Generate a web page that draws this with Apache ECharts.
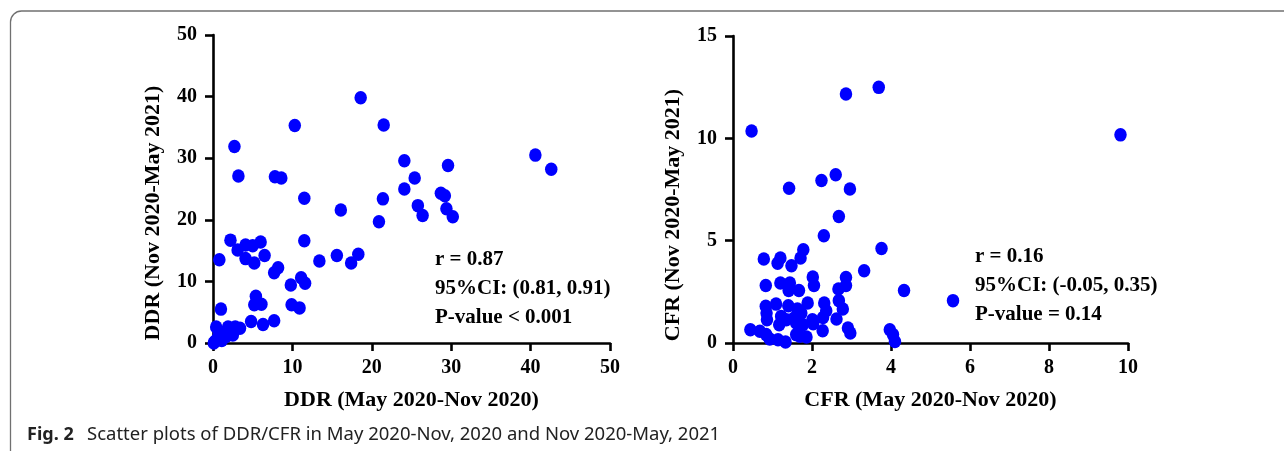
<!DOCTYPE html>
<html>
<head>
<meta charset="utf-8">
<script src="https://cdn.jsdelivr.net/npm/echarts@6/dist/echarts.min.js"></script>
<style>
html,body{margin:0;padding:0;background:#fff;}
#chart{width:1284px;height:451px;}
</style>
</head>
<body>
<div id="chart"></div>
<script>
// DDR: x = May 2020-Nov 2020, y = Nov 2020-May 2021
const ddrX = [18.6,10.3,21.5,2.7,3.2,7.8,8.6,11.5,40.6,42.6,24.1,29.6,25.4,24.1,28.7,29.2,21.4,25.8,26.4,29.4,30.2,20.9,16.1,2.2,11.5,6.0,4.1,5.0,3.1,6.5,4.1,5.2,0.8,15.6,18.3,17.4,13.4,8.2,7.7,11.1,11.6,9.8,9.9,10.9,5.4,5.2,6.1,1.0,4.8,7.7,6.3,0.4,3.4,0.2,0.5,0.7,1.0,1.3,1.5,1.8,2.2,2.5,2.8,1.9,1.1,0.1,2.2,0.7,1.6];
const ddrY = [39.8,35.3,35.4,31.9,27.1,27.0,26.8,23.5,30.5,28.2,29.6,28.8,26.8,25.0,24.3,23.9,23.4,22.3,20.7,21.8,20.5,19.7,21.6,16.7,16.6,16.4,15.9,15.8,15.1,14.2,13.7,13.0,13.5,14.2,14.4,13.0,13.3,12.2,11.4,10.6,9.7,9.4,6.2,5.7,7.6,6.2,6.3,5.5,3.5,3.6,3.0,2.6,2.4,0.2,0.6,1.0,1.3,0.8,1.6,2.0,2.4,1.3,2.6,2.6,0.4,0.0,1.7,1.9,1.0];
// CFR: x = May 2020-Nov 2020, y = Nov 2020-May 2021
const cfrX = [0.47,9.81,2.86,3.69,2.60,2.24,1.42,2.96,2.68,2.30,3.76,1.78,1.71,0.78,1.20,1.13,1.48,3.32,2.02,2.86,2.05,2.86,2.67,0.83,1.20,1.44,1.41,1.67,4.33,5.57,1.09,0.83,1.40,1.89,2.31,2.68,2.78,2.36,2.28,2.62,0.85,0.86,1.22,1.17,1.55,1.73,2.01,2.03,1.60,1.77,0.44,0.68,0.84,0.93,1.14,1.33,1.60,1.86,1.69,2.27,2.91,2.97,3.97,4.05,4.10,1.63,1.35];
const cfrY = [10.36,10.17,12.17,12.49,8.22,7.94,7.56,7.52,6.18,5.24,4.62,4.56,4.15,4.10,4.15,3.90,3.77,3.53,3.22,3.20,2.81,2.81,2.64,2.81,2.93,2.93,2.57,2.57,2.57,2.07,1.90,1.79,1.82,1.95,1.95,2.07,1.66,1.58,1.25,1.17,1.46,1.14,1.30,0.89,1.22,1.46,1.14,0.94,0.98,0.89,0.65,0.57,0.41,0.20,0.16,0.05,0.41,0.29,0.33,0.60,0.73,0.49,0.65,0.41,0.07,1.66,1.14];

const ddrTicks = {min:0, max:50, interval:10};
const cfrXTicks = {min:0, max:10, interval:2};
const cfrYTicks = {min:0, max:15, interval:5};

const xTitles = ['DDR (May 2020-Nov 2020)', 'CFR (May 2020-Nov 2020)'];
const yTitles = ['DDR (Nov 2020-May 2021)', 'CFR (Nov 2020-May 2021)'];
const statsDDR = ['r = 0.87', '95%CI: (0.81, 0.91)', 'P-value < 0.001'];
const statsCFR = ['r = 0.16', '95%CI: (-0.05, 0.35)', 'P-value = 0.14'];
const captionBold = 'Fig. 2';
const captionText = 'Scatter plots of DDR/CFR in May 2020-Nov, 2020 and Nov 2020-May, 2021';

const serif = 'Liberation Serif';
const axisCommon = {
  axisLine: {show: true, onZero: false, lineStyle: {color: '#000', width: 2.6}},
  axisTick: {show: true, length: 8, lineStyle: {color: '#000', width: 2.6}},
  axisLabel: {color: '#000', fontFamily: serif, fontWeight: 'bold', fontSize: 20},
  splitLine: {show: false}
};
function toPairs(xs, ys){ return xs.map((v,i)=>[v, ys[i]]); }

const chart = echarts.init(document.getElementById('chart'), null, {renderer:'canvas'});
const titleStyle = {fontFamily: serif, fontWeight: 'bold', fontSize: 22, fill: '#000'};
const statStyle = {fontFamily: serif, fontWeight: 'bold', fontSize: 21, fill: '#000'};

const graphics = [
  {type:'rect', shape:{x:10.5, y:11, width:1300, height:480, r:11}, style:{fill:'none', stroke:'#707070', lineWidth:1.3}, silent:true},
  {type:'text', x:27, y:435, style:{text:captionBold, fontFamily:'Noto Sans', fontWeight:'bold', fontSize:18, fill:'#222', verticalAlign:'middle'}},
  {type:'text', x:87, y:435, style:{text:captionText, fontFamily:'Noto Sans', fontSize:18.5, fill:'#222', verticalAlign:'middle'}},
  {type:'text', x:153, y:213, rotation:Math.PI/2, style:Object.assign({text:yTitles[0], align:'center', verticalAlign:'middle'}, titleStyle)},
  {type:'text', x:673, y:215, rotation:Math.PI/2, style:Object.assign({text:yTitles[1], align:'center', verticalAlign:'middle'}, titleStyle)}
];
const statYL = [260, 289, 318];
const statYR = [257, 286, 315];
statsDDR.forEach((t,i)=>graphics.push({type:'text', x:435, y:statYL[i], style:Object.assign({text:t, verticalAlign:'middle'}, statStyle)}));
statsCFR.forEach((t,i)=>graphics.push({type:'text', x:975, y:statYR[i], style:Object.assign({text:t, verticalAlign:'middle'}, statStyle)}));

chart.setOption({
  animation: false,
  backgroundColor: '#fff',
  grid: [
    {left:213, top:35, width:397, height:308},
    {left:733, top:36, width:395, height:307}
  ],
  xAxis: [
    Object.assign({type:'value', gridIndex:0, name:xTitles[0], nameLocation:'middle', nameGap:46,
      nameTextStyle:{fontFamily:serif, fontWeight:'bold', fontSize:22, color:'#000'}}, ddrTicks, axisCommon,
      {axisLabel:Object.assign({}, axisCommon.axisLabel, {margin:15})}),
    Object.assign({type:'value', gridIndex:1, name:xTitles[1], nameLocation:'middle', nameGap:46,
      nameTextStyle:{fontFamily:serif, fontWeight:'bold', fontSize:22, color:'#000'}}, cfrXTicks, axisCommon,
      {axisLabel:Object.assign({}, axisCommon.axisLabel, {margin:15})})
  ],
  yAxis: [
    Object.assign({type:'value', gridIndex:0}, ddrTicks, axisCommon, {axisLabel:Object.assign({}, axisCommon.axisLabel, {margin:16})}),
    Object.assign({type:'value', gridIndex:1}, cfrYTicks, axisCommon, {axisLabel:Object.assign({}, axisCommon.axisLabel, {margin:16})})
  ],
  series: [
    {type:'scatter', xAxisIndex:0, yAxisIndex:0, data: toPairs(ddrX, ddrY), symbol:'circle', symbolSize:[12.5,13.5], itemStyle:{color:'#0000ff', opacity:1}, clip:false},
    {type:'scatter', xAxisIndex:1, yAxisIndex:1, data: toPairs(cfrX, cfrY), symbol:'circle', symbolSize:[12.5,13.5], itemStyle:{color:'#0000ff', opacity:1}, clip:false}
  ],
  graphic: graphics
});
</script>
</body>
</html>
